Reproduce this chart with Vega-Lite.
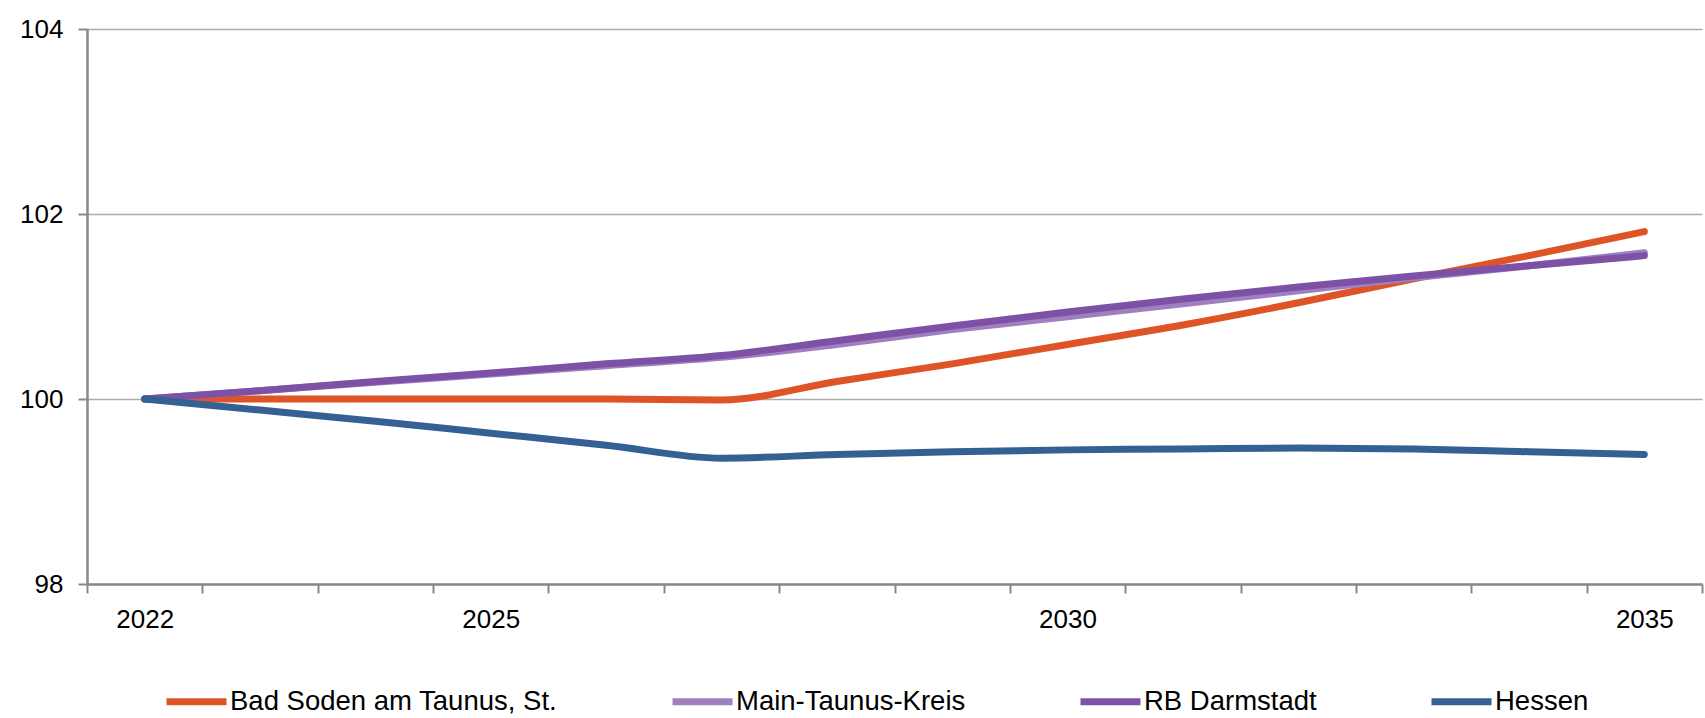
{
  "$schema": "https://vega.github.io/schema/vega-lite/v6.json",
  "autosize": {"type": "none"},
  "padding": {"left": 87, "top": 29, "right": 3, "bottom": 134},
  "width": 1615,
  "height": 555,
  "background": "white",
  "config": {"view": {"stroke": null}},
  "data": {"values": [
    {"year": "2022", "series": "Bad Soden am Taunus, St.", "v": 100.0},
    {"year": "2023", "series": "Bad Soden am Taunus, St.", "v": 100.0},
    {"year": "2024", "series": "Bad Soden am Taunus, St.", "v": 100.0},
    {"year": "2025", "series": "Bad Soden am Taunus, St.", "v": 100.0},
    {"year": "2026", "series": "Bad Soden am Taunus, St.", "v": 100.0},
    {"year": "2027", "series": "Bad Soden am Taunus, St.", "v": 99.99},
    {"year": "2028", "series": "Bad Soden am Taunus, St.", "v": 100.19},
    {"year": "2029", "series": "Bad Soden am Taunus, St.", "v": 100.38},
    {"year": "2030", "series": "Bad Soden am Taunus, St.", "v": 100.59},
    {"year": "2031", "series": "Bad Soden am Taunus, St.", "v": 100.80},
    {"year": "2032", "series": "Bad Soden am Taunus, St.", "v": 101.04},
    {"year": "2033", "series": "Bad Soden am Taunus, St.", "v": 101.30},
    {"year": "2034", "series": "Bad Soden am Taunus, St.", "v": 101.55},
    {"year": "2035", "series": "Bad Soden am Taunus, St.", "v": 101.81},
    {"year": "2022", "series": "Main-Taunus-Kreis", "v": 100.0},
    {"year": "2023", "series": "Main-Taunus-Kreis", "v": 100.09},
    {"year": "2024", "series": "Main-Taunus-Kreis", "v": 100.18},
    {"year": "2025", "series": "Main-Taunus-Kreis", "v": 100.27},
    {"year": "2026", "series": "Main-Taunus-Kreis", "v": 100.36},
    {"year": "2027", "series": "Main-Taunus-Kreis", "v": 100.45},
    {"year": "2028", "series": "Main-Taunus-Kreis", "v": 100.59},
    {"year": "2029", "series": "Main-Taunus-Kreis", "v": 100.75},
    {"year": "2030", "series": "Main-Taunus-Kreis", "v": 100.89},
    {"year": "2031", "series": "Main-Taunus-Kreis", "v": 101.03},
    {"year": "2032", "series": "Main-Taunus-Kreis", "v": 101.17},
    {"year": "2033", "series": "Main-Taunus-Kreis", "v": 101.31},
    {"year": "2034", "series": "Main-Taunus-Kreis", "v": 101.44},
    {"year": "2035", "series": "Main-Taunus-Kreis", "v": 101.58},
    {"year": "2022", "series": "RB Darmstadt", "v": 100.0},
    {"year": "2023", "series": "RB Darmstadt", "v": 100.09},
    {"year": "2024", "series": "RB Darmstadt", "v": 100.19},
    {"year": "2025", "series": "RB Darmstadt", "v": 100.28},
    {"year": "2026", "series": "RB Darmstadt", "v": 100.38},
    {"year": "2027", "series": "RB Darmstadt", "v": 100.47},
    {"year": "2028", "series": "RB Darmstadt", "v": 100.63},
    {"year": "2029", "series": "RB Darmstadt", "v": 100.79},
    {"year": "2030", "series": "RB Darmstadt", "v": 100.94},
    {"year": "2031", "series": "RB Darmstadt", "v": 101.08},
    {"year": "2032", "series": "RB Darmstadt", "v": 101.21},
    {"year": "2033", "series": "RB Darmstadt", "v": 101.33},
    {"year": "2034", "series": "RB Darmstadt", "v": 101.44},
    {"year": "2035", "series": "RB Darmstadt", "v": 101.55},
    {"year": "2022", "series": "Hessen", "v": 100.0},
    {"year": "2023", "series": "Hessen", "v": 99.88},
    {"year": "2024", "series": "Hessen", "v": 99.76},
    {"year": "2025", "series": "Hessen", "v": 99.63},
    {"year": "2026", "series": "Hessen", "v": 99.50},
    {"year": "2027", "series": "Hessen", "v": 99.36},
    {"year": "2028", "series": "Hessen", "v": 99.40},
    {"year": "2029", "series": "Hessen", "v": 99.43},
    {"year": "2030", "series": "Hessen", "v": 99.45},
    {"year": "2031", "series": "Hessen", "v": 99.46},
    {"year": "2032", "series": "Hessen", "v": 99.47},
    {"year": "2033", "series": "Hessen", "v": 99.46},
    {"year": "2034", "series": "Hessen", "v": 99.43},
    {"year": "2035", "series": "Hessen", "v": 99.40}
  ]},
  "mark": {"type": "line", "strokeWidth": 7, "strokeCap": "round", "strokeJoin": "round", "interpolate": "monotone"},
  "encoding": {
    "x": {
      "field": "year", "type": "ordinal",
      "scale": {"type": "band", "paddingInner": 0, "paddingOuter": 0},
      "axis": {
        "title": null, "labelAngle": 0, "tickBand": "extent",
        "labelExpr": "indexof(['2022','2025','2030','2035'], datum.label) >= 0 ? datum.label : ''",
        "domainColor": "#888888", "domainWidth": 2.5,
        "tickColor": "#888888", "tickWidth": 2, "tickSize": 9,
        "labelFont": "Liberation Sans, Arial, sans-serif", "labelFontSize": 26, "labelColor": "#000000",
        "labelPadding": 13, "grid": false
      }
    },
    "y": {
      "field": "v", "type": "quantitative",
      "scale": {"domain": [98, 104], "nice": false, "zero": false},
      "axis": {
        "title": null, "values": [98, 100, 102, 104], "format": "d",
        "domainColor": "#888888", "domainWidth": 2.5,
        "tickColor": "#888888", "tickWidth": 2, "tickSize": 9,
        "gridColor": "#aaaaaa", "gridWidth": 1.5, "grid": true,
        "labelFont": "Liberation Sans, Arial, sans-serif", "labelFontSize": 26, "labelColor": "#000000",
        "labelPadding": 15
      }
    },
    "color": {
      "field": "series", "type": "nominal",
      "sort": ["Bad Soden am Taunus, St.", "Main-Taunus-Kreis", "RB Darmstadt", "Hessen"],
      "scale": {
        "domain": ["Bad Soden am Taunus, St.", "Main-Taunus-Kreis", "RB Darmstadt", "Hessen"],
        "range": ["#DE5426", "#9F7FC0", "#7D52A6", "#346094"]
      },
      "legend": {
        "title": null, "orient": "none", "legendX": 76, "legendY": 639, "direction": "horizontal",
        "symbolType": "stroke", "symbolSize": 3600, "symbolStrokeWidth": 7,
        "labelFont": "Liberation Sans, Arial, sans-serif", "labelFontSize": 27.5, "labelColor": "#000000",
        "labelOffset": 0, "columnPadding": 100, "labelLimit": 600
      }
    }
  }
}
